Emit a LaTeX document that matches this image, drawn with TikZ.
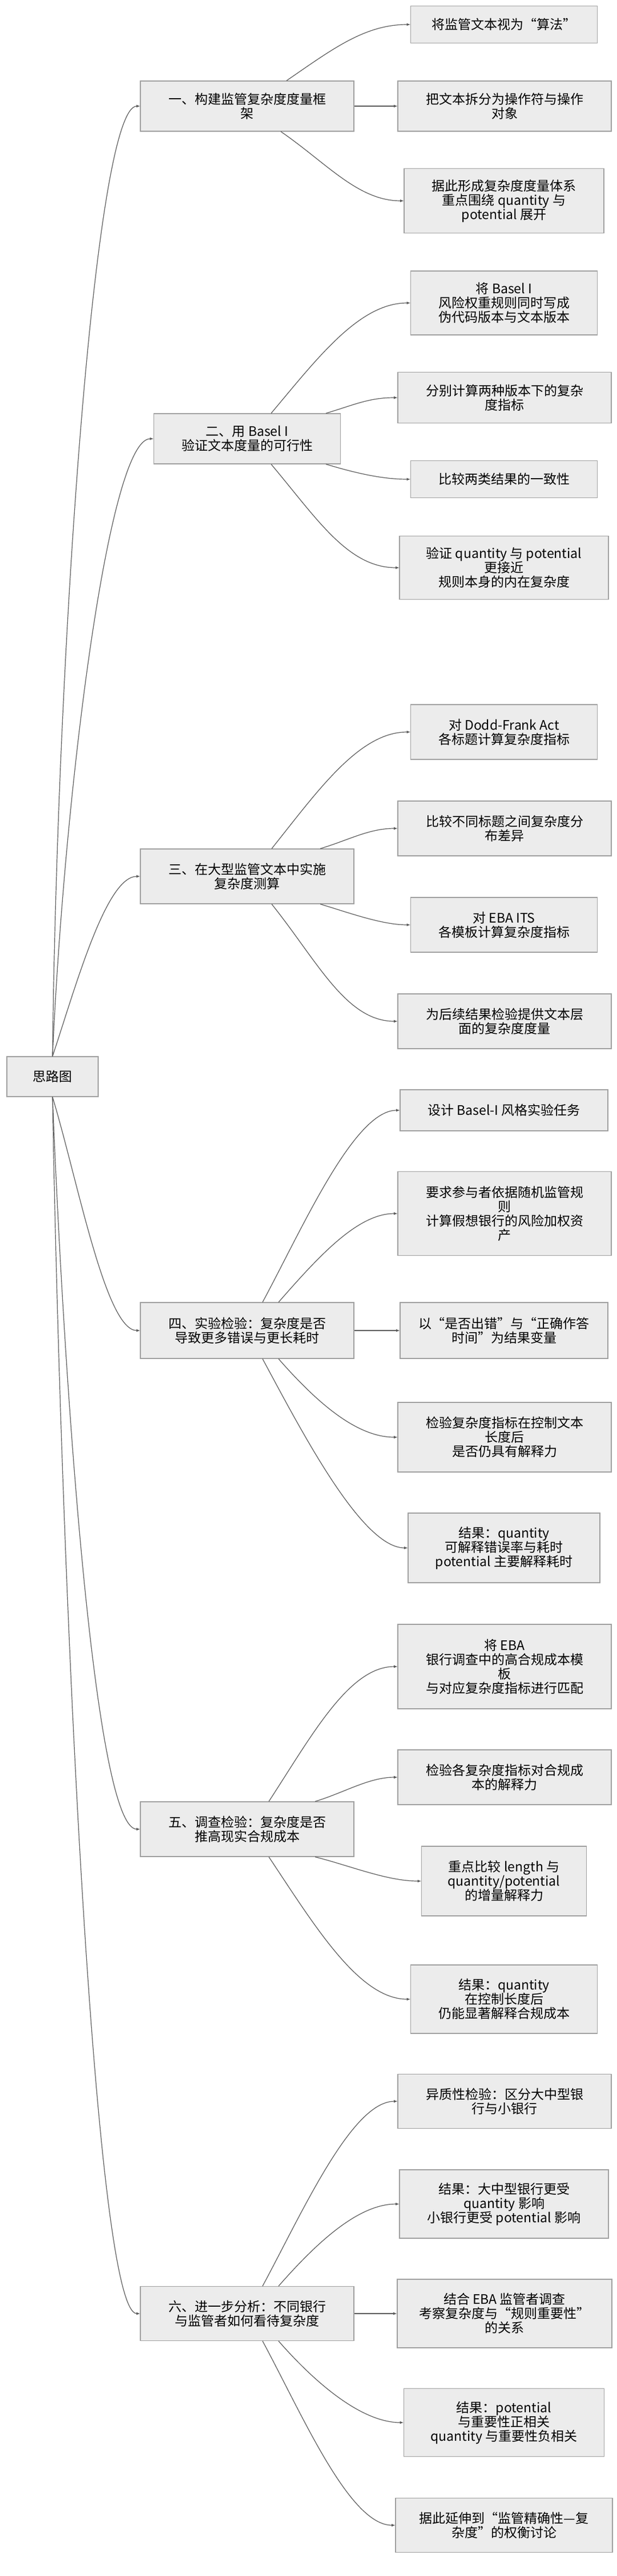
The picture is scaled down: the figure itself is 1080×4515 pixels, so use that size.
\documentclass[tikz,border=0pt]{standalone}
\usepackage{fontspec}
\setmainfont{Noto Sans CJK SC}
\usepackage{tikz}
\usetikzlibrary{arrows, positioning}
\definecolor{boxfill}{RGB}{236, 236, 236}
\definecolor{boxline}{RGB}{160, 160, 160}
\definecolor{linkgray}{RGB}{90, 90, 90}

\begin{document}
\begin{tikzpicture}[x=1pt, y=-1pt,
    box/.style={draw=boxline, fill=boxfill, line width=1.2pt, align=center,
        font=\fontsize{23}{25}\selectfont, inner sep=0pt},
    link/.style={draw=linkgray, line width=1.2pt, -latex}]
    \useasboundingbox (0,0) rectangle (1080,4515);

    % Root
    \node[box, minimum width=160pt, minimum height=70pt] (root) at (92,1887) {思路图};

    % Main steps
    \node[box, minimum width=374pt, minimum height=88pt] (m1) at (433,186) {一、构建监管复杂度度量框\\架};
    \node[box, minimum width=327pt, minimum height=88pt] (m2) at (433,769) {二、用 Basel I\\验证文本度量的可行性};
    \node[box, minimum width=374pt, minimum height=96pt] (m3) at (433,1536) {三、在大型监管文本中实施\\复杂度测算};
    \node[box, minimum width=374pt, minimum height=98pt] (m4) at (433,2332) {四、实验检验：复杂度是否\\导致更多错误与更长耗时};
    \node[box, minimum width=374pt, minimum height=96pt] (m5) at (433,3206) {五、调查检验：复杂度是否\\推高现实合规成本};
    \node[box, minimum width=374pt, minimum height=95pt] (m6) at (433,4055) {六、进一步分析：不同银行\\与监管者如何看待复杂度};

    % Step 1 details
    \node[box, minimum width=327pt, minimum height=65pt] (l1a) at (883,43) {将监管文本视为“算法”};
    \node[box, minimum width=374pt, minimum height=88pt] (l1b) at (884,186) {把文本拆分为操作符与操作\\对象};
    \node[box, minimum width=350pt, minimum height=113pt] (l1c) at (883,352) {据此形成复杂度度量体系\\重点围绕 quantity 与\\potential 展开};

    % Step 2 details
    \node[box, minimum width=327pt, minimum height=112pt] (l2a) at (883,531) {将 Basel I\\风险权重规则同时写成\\伪代码版本与文本版本};
    \node[box, minimum width=374pt, minimum height=89pt] (l2b) at (884,697) {分别计算两种版本下的复杂\\度指标};
    \node[box, minimum width=327pt, minimum height=65pt] (l2c) at (883,840) {比较两类结果的一致性};
    \node[box, minimum width=366pt, minimum height=111pt] (l2d) at (883,995) {验证 quantity 与 potential\\更接近\\规则本身的内在复杂度};

    % Step 3 details
    \node[box, minimum width=327pt, minimum height=96pt] (l3a) at (883,1283) {对 Dodd-Frank Act\\各标题计算复杂度指标};
    \node[box, minimum width=374pt, minimum height=96pt] (l3b) at (884,1452) {比较不同标题之间复杂度分\\布差异};
    \node[box, minimum width=327pt, minimum height=96pt] (l3c) at (883,1621) {对 EBA ITS\\各模板计算复杂度指标};
    \node[box, minimum width=374pt, minimum height=96pt] (l3d) at (884,1790) {为后续结果检验提供文本层\\面的复杂度度量};

    % Step 4 details
    \node[box, minimum width=364pt, minimum height=72pt] (l4a) at (883,1946) {设计 Basel-I 风格实验任务};
    \node[box, minimum width=374pt, minimum height=147pt] (l4b) at (884,2127) {要求参与者依据随机监管规\\则\\计算假想银行的风险加权资\\产};
    \node[box, minimum width=364pt, minimum height=98pt] (l4c) at (883,2332) {以“是否出错”与“正确作答\\时间”为结果变量};
    \node[box, minimum width=374pt, minimum height=122pt] (l4d) at (884,2519) {检验复杂度指标在控制文本\\长度后\\是否仍具有解释力};
    \node[box, minimum width=336pt, minimum height=122pt] (l4e) at (883,2713) {结果：quantity\\可解释错误率与耗时\\potential 主要解释耗时};

    % Step 5 details
    \node[box, minimum width=374pt, minimum height=148pt] (l5a) at (884,2921) {将 EBA\\银行调查中的高合规成本模\\板\\与对应复杂度指标进行匹配};
    \node[box, minimum width=374pt, minimum height=96pt] (l5b) at (884,3115) {检验各复杂度指标对合规成\\本的解释力};
    \node[box, minimum width=289pt, minimum height=122pt] (l5c) at (883,3297) {重点比较 length 与\\quantity/potential\\的增量解释力};
    \node[box, minimum width=327pt, minimum height=120pt] (l5d) at (883,3504) {结果：quantity\\在控制长度后\\仍能显著解释合规成本};

    % Step 6 details
    \node[box, minimum width=374pt, minimum height=95pt] (l6a) at (884,3683) {异质性检验：区分大中型银\\行与小银行};
    \node[box, minimum width=366pt, minimum height=120pt] (l6b) at (883,3863) {结果：大中型银行更受\\quantity 影响\\小银行更受 potential 影响};
    \node[box, minimum width=376pt, minimum height=120pt] (l6c) at (884,4055) {结合 EBA 监管者调查\\考察复杂度与“规则重要性”\\的关系};
    \node[box, minimum width=351pt, minimum height=119pt] (l6d) at (883,4246) {结果：potential\\与重要性正相关\\quantity 与重要性负相关};
    \node[box, minimum width=380pt, minimum height=95pt] (l6e) at (883,4426) {据此延伸到“监管精确性—复\\杂度”的权衡讨论};

    % Root links
    \draw[link] (root.north) .. controls +(8,-700) and +(-80,0) .. (m1.west);
    \draw[link] (root.north) .. controls +(20,-450) and +(-80,0) .. (m2.west);
    \draw[link] (root.north) .. controls +(40,-120) and +(-60,0) .. (m3.west);
    \draw[link] (root.south) .. controls +(45,150) and +(-60,0) .. (m4.west);
    \draw[link] (root.south) .. controls +(20,500) and +(-80,0) .. (m5.west);
    \draw[link] (root.south) .. controls +(15,850) and +(-80,0) .. (m6.west);

    % Step 1 links
    \draw[link] ([xshift=69pt]m1.north) .. controls +(80,-55) and +(-80,0) .. (l1a.west);
    \draw[link] (m1.east) -- (l1b.west);
    \draw[link] ([xshift=59pt]m1.south) .. controls +(80,55) and +(-80,0) .. (l1c.west);

    % Step 2 links
    \draw[link] ([xshift=42pt]m2.north) .. controls +(80,-95) and +(-90,0) .. (l2a.west);
    \draw[link] ([xshift=138pt]m2.north) .. controls +(50,-15) and +(-50,0) .. (l2b.west);
    \draw[link] ([xshift=138pt]m2.south) .. controls +(50,15) and +(-50,0) .. (l2c.west);
    \draw[link] ([xshift=42pt]m2.south) .. controls +(80,95) and +(-90,0) .. (l2d.west);

    % Step 3 links
    \draw[link] ([xshift=43pt]m3.north) .. controls +(80,-100) and +(-90,0) .. (l3a.west);
    \draw[link] ([xshift=128pt]m3.north) .. controls +(50,-15) and +(-50,0) .. (l3b.west);
    \draw[link] ([xshift=128pt]m3.south) .. controls +(50,15) and +(-50,0) .. (l3c.west);
    \draw[link] ([xshift=43pt]m3.south) .. controls +(80,100) and +(-90,0) .. (l3d.west);

    % Step 4 links
    \draw[link] ([xshift=27pt]m4.north) .. controls +(70,-130) and +(-80,0) .. (l4a.west);
    \draw[link] ([xshift=55pt]m4.north) .. controls +(70,-80) and +(-70,0) .. (l4b.west);
    \draw[link] (m4.east) -- (l4c.west);
    \draw[link] ([xshift=55pt]m4.south) .. controls +(70,80) and +(-70,0) .. (l4d.west);
    \draw[link] ([xshift=27pt]m4.south) .. controls +(70,130) and +(-80,0) .. (l4e.west);

    % Step 5 links
    \draw[link] ([xshift=38pt]m5.north) .. controls +(75,-115) and +(-85,0) .. (l5a.west);
    \draw[link] ([xshift=119pt]m5.north) .. controls +(50,-15) and +(-50,0) .. (l5b.west);
    \draw[link] ([xshift=119pt]m5.south) .. controls +(60,15) and +(-60,0) .. (l5c.west);
    \draw[link] ([xshift=38pt]m5.south) .. controls +(80,120) and +(-90,0) .. (l5d.west);

    % Step 6 links
    \draw[link] ([xshift=27pt]m6.north) .. controls +(70,-130) and +(-80,0) .. (l6a.west);
    \draw[link] ([xshift=55pt]m6.north) .. controls +(70,-80) and +(-70,0) .. (l6b.west);
    \draw[link] (m6.east) -- (l6c.west);
    \draw[link] ([xshift=55pt]m6.south) .. controls +(70,80) and +(-70,0) .. (l6d.west);
    \draw[link] ([xshift=27pt]m6.south) .. controls +(70,130) and +(-80,0) .. (l6e.west);
\end{tikzpicture}
\end{document}
